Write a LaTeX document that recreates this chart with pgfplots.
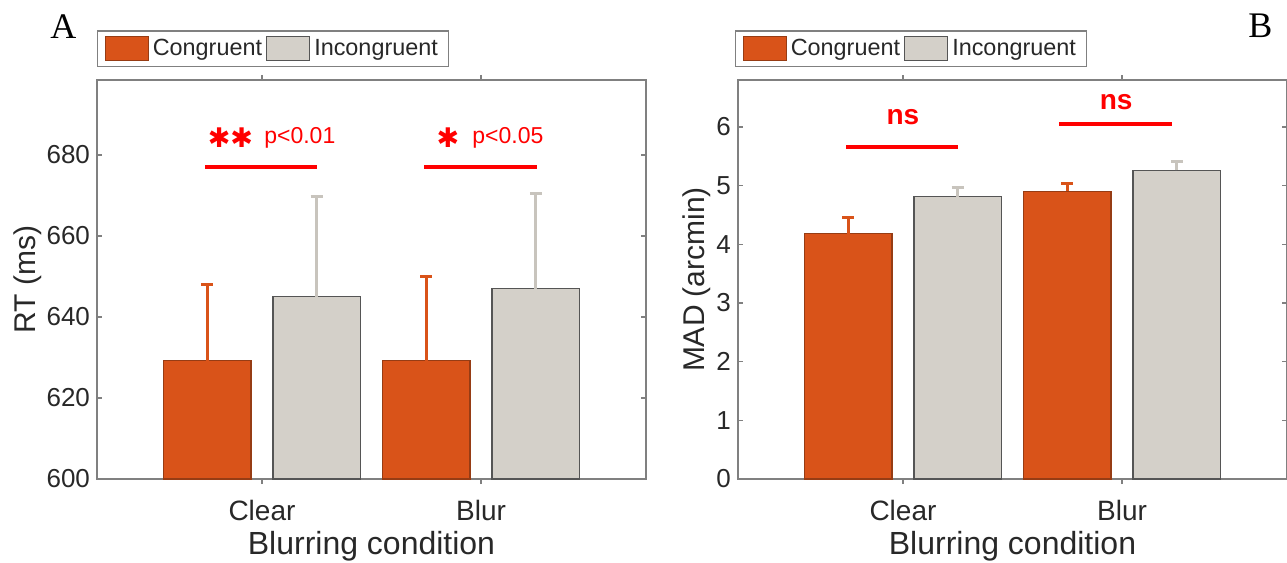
\documentclass[border=0pt]{standalone}
\usepackage{pgfplots}
\pgfplotsset{compat=1.18}
\usepackage{fontspec}
\setmainfont{Liberation Sans}
\newfontfamily\seriffont{Liberation Serif}
\newfontfamily\symfont{DejaVu Sans}

\definecolor{cong}{RGB}{217,83,25}
\definecolor{congedge}{RGB}{150,60,20}
\definecolor{incong}{RGB}{212,208,201}
\definecolor{incongedge}{RGB}{85,85,85}
\definecolor{incongerr}{RGB}{200,196,189}
\definecolor{axgray}{RGB}{128,128,128}
\definecolor{txt}{RGB}{40,40,40}
\definecolor{sig}{RGB}{255,0,0}

\pgfplotsset{
  panel/.style={
    scale only axis, width=274.5pt, height=199.5pt,
    xmin=0.247, xmax=2.753,
    xtick={1,2}, xticklabels={Clear,Blur},
    axis line style={axgray, line width=0.7pt},
    every tick/.style={axgray, line width=0.7pt},
    major tick length=2.5pt,
    tick align=inside,
    tick label style={txt},
    xticklabel style={font=\fontsize{14}{16}\selectfont, yshift=-4.5pt},
    yticklabel style={font=\fontsize{13}{15}\selectfont},
    /pgf/number format/assume math mode=true,
    xlabel={Blurring condition},
    xlabel style={font=\fontsize{16}{18}\selectfont, txt, at={(axis description cs:0.5,-0.19)}, anchor=base},
    ylabel style={font=\fontsize{15}{17}\selectfont, txt, anchor=center},
    ybar, bar width=0.4,
    legend columns=2,
    legend style={at={(axis description cs:0,1)}, anchor=south west, yshift=6.5pt,
      draw=axgray, line width=0.6pt, inner xsep=3.5pt, inner ysep=2pt,
      font=\fontsize{11.7}{13}\selectfont, text=txt},
    legend image code/.code={\draw[#1, line width=0.6pt] (0pt,-6pt) rectangle (21.5pt,6pt);},
    clip=false,
  },
  congbar/.style={fill=cong, draw=congedge, line width=0.6pt, bar shift=-0.25,
    error bars/y dir=plus, error bars/y explicit,
    error bars/error bar style={draw=cong, line width=1.5pt},
    error bars/error mark options={draw=cong, rotate=90, mark size=3pt, line width=1.5pt}},
  incongbar/.style={fill=incong, draw=incongedge, line width=0.6pt, bar shift=0.25,
    error bars/y dir=plus, error bars/y explicit,
    error bars/error bar style={draw=incongerr, line width=1.5pt},
    error bars/error mark options={draw=incongerr, rotate=90, mark size=3pt, line width=1.5pt}},
  sigline/.style={sharp plot, sig, line width=1.75pt, no marks, forget plot},
}

\begin{document}
\begin{tikzpicture}
\useasboundingbox (0,0) rectangle (643.5pt,281.5pt);

% panel A
\begin{axis}[panel, at={(48.5pt,42pt)}, anchor=south west,
  ymin=600, ymax=698.5, ytick={600,620,640,660,680},
  ylabel={RT (ms)}, ylabel style={at={(axis description cs:-0.1266,0.5)}}]
\addplot[congbar] coordinates {(1,629.2) +- (0,18.9) (2,629.2) +- (0,20.9)};
\addplot[incongbar] coordinates {(1,645.0) +- (0,24.7) (2,647.0) +- (0,23.4)};
\legend{Congruent,Incongruent}
\addplot[sigline] coordinates {(0.740,677) (1.251,677)};
\addplot[sigline] coordinates {(1.740,677) (2.256,677)};
\node[sig, font=\symfont\fontsize{13.5}{15}\selectfont] at (axis cs:0.856,684.2) {✱✱};
\node[sig, font=\fontsize{11.5}{13}\selectfont, anchor=west, inner sep=0pt] at (axis cs:1.009,684.2) {p<0.01};
\node[sig, font=\symfont\fontsize{13.5}{15}\selectfont] at (axis cs:1.849,684.2) {✱};
\node[sig, font=\fontsize{11.5}{13}\selectfont, anchor=west, inner sep=0pt] at (axis cs:1.959,684.2) {p<0.05};
\end{axis}

% panel B
\begin{axis}[panel, at={(369pt,42pt)}, anchor=south west,
  ymin=0, ymax=6.8, ytick={0,1,2,3,4,5,6},
  legend style={xshift=-1.5pt},
  ylabel={MAD (arcmin)}, ylabel style={at={(axis description cs:-0.0747,0.5)}}]
\addplot[congbar] coordinates {(1,4.18) +- (0,0.27) (2,4.90) +- (0,0.13)};
\addplot[incongbar] coordinates {(1,4.81) +- (0,0.16) (2,5.26) +- (0,0.15)};
\legend{Congruent,Incongruent}
\addplot[sigline] coordinates {(0.741,5.66) (1.250,5.66)};
\addplot[sigline] coordinates {(1.714,6.05) (2.227,6.05)};
\node[sig, font=\bfseries\fontsize{14}{16}\selectfont] at (axis cs:1.0,6.17) {ns};
\node[sig, font=\bfseries\fontsize{14}{16}\selectfont] at (axis cs:1.973,6.42) {ns};
\end{axis}

\node[font=\seriffont\fontsize{18}{20}\selectfont, anchor=base west, inner sep=0pt] at (25pt,262pt) {A};
\node[font=\seriffont\fontsize{18}{20}\selectfont, anchor=base west, inner sep=0pt] at (624pt,262.5pt) {B};
\end{tikzpicture}
\end{document}
